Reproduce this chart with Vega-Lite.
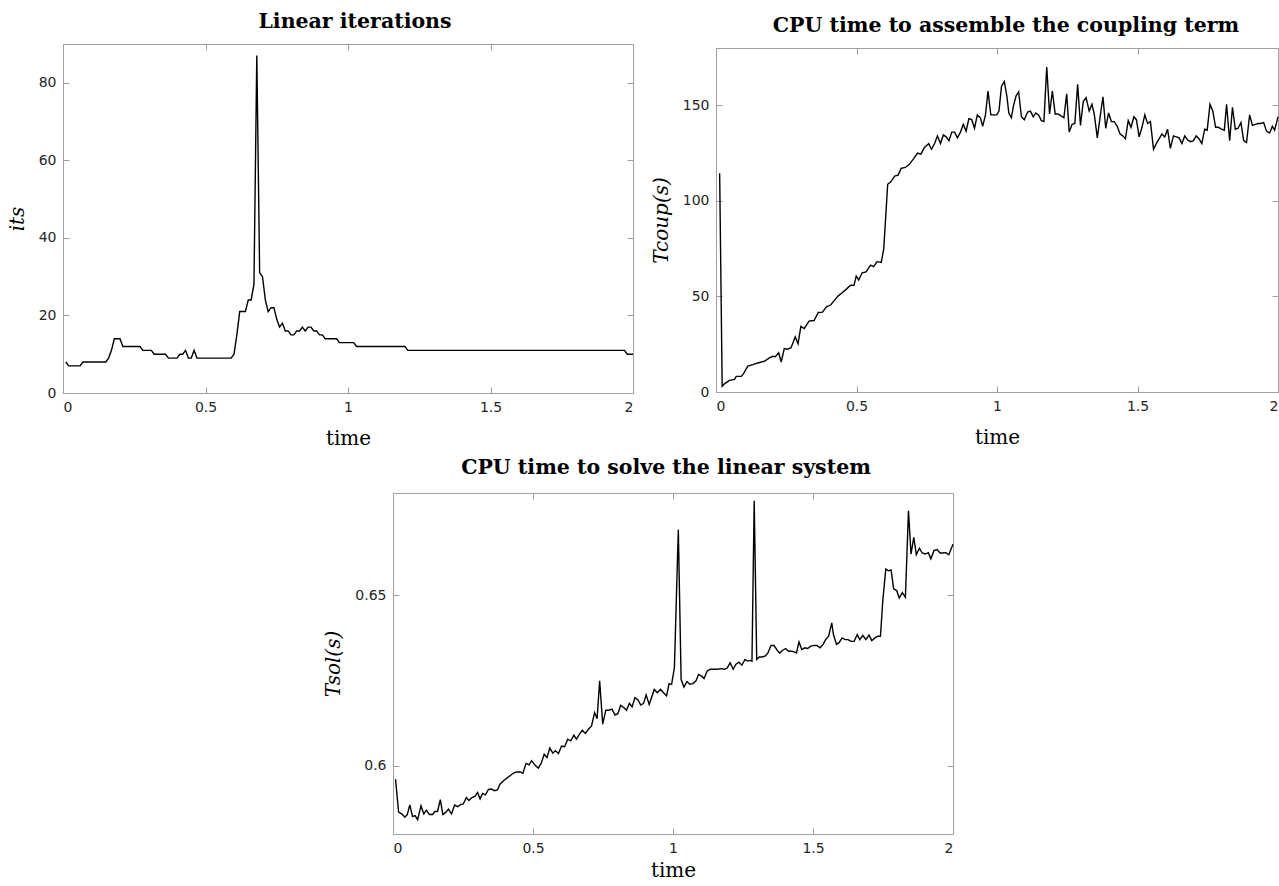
{
  "$schema": "https://vega.github.io/schema/vega-lite/v6.json",
  "padding": {"left": 6, "top": 10, "right": 2, "bottom": 0},
  "background": "white",
  "datasets": {
    "its": [
      {"t":0.01,"v":8},{"t":0.02,"v":7},{"t":0.06,"v":7},{"t":0.07,"v":8},{"t":0.15,"v":8},{"t":0.16,"v":9},{"t":0.17,"v":11},{"t":0.18,"v":14},{"t":0.20,"v":14},{"t":0.21,"v":12},{"t":0.27,"v":12},{"t":0.28,"v":11},{"t":0.31,"v":11},{"t":0.32,"v":10},{"t":0.36,"v":10},{"t":0.37,"v":9},{"t":0.40,"v":9},{"t":0.41,"v":10},{"t":0.42,"v":10},{"t":0.43,"v":11},{"t":0.44,"v":9},{"t":0.45,"v":9},{"t":0.46,"v":11},{"t":0.47,"v":9},{"t":0.59,"v":9},{"t":0.60,"v":10},{"t":0.61,"v":15},{"t":0.62,"v":21},{"t":0.64,"v":21},{"t":0.65,"v":24},{"t":0.66,"v":24},{"t":0.67,"v":28},{"t":0.68,"v":87},{"t":0.69,"v":31},{"t":0.70,"v":30},{"t":0.71,"v":24},{"t":0.72,"v":21},{"t":0.73,"v":22},{"t":0.74,"v":22},{"t":0.75,"v":19},{"t":0.76,"v":17},{"t":0.77,"v":18},{"t":0.78,"v":16},{"t":0.79,"v":16},{"t":0.80,"v":15},{"t":0.81,"v":15},{"t":0.82,"v":16},{"t":0.83,"v":16},{"t":0.84,"v":17},{"t":0.85,"v":16},{"t":0.86,"v":17},{"t":0.87,"v":17},{"t":0.88,"v":16},{"t":0.89,"v":16},{"t":0.90,"v":15},{"t":0.91,"v":15},{"t":0.92,"v":14},{"t":0.96,"v":14},{"t":0.97,"v":13},{"t":1.02,"v":13},{"t":1.03,"v":12},{"t":1.20,"v":12},{"t":1.21,"v":11},{"t":1.97,"v":11},{"t":1.98,"v":10},{"t":2.00,"v":10}
    ],
    "coup": [
      {"t":0.013,"v":114.5},{"t":0.022,"v":3},{"t":0.031,"v":4.4},{"t":0.048,"v":6.1},{"t":0.066,"v":6.6},{"t":0.072,"v":8.2},{"t":0.09,"v":8.2},{"t":0.098,"v":9.6},{"t":0.113,"v":13.5},{"t":0.131,"v":14.3},{"t":0.149,"v":15.2},{"t":0.172,"v":16.1},{"t":0.19,"v":17.8},{"t":0.202,"v":18.7},{"t":0.211,"v":18.5},{"t":0.223,"v":20.6},{"t":0.232,"v":15.7},{"t":0.243,"v":22.7},{"t":0.255,"v":22.4},{"t":0.267,"v":23.2},{"t":0.282,"v":28.8},{"t":0.292,"v":25.3},{"t":0.302,"v":34.3},{"t":0.314,"v":33.2},{"t":0.331,"v":37.1},{"t":0.349,"v":37.4},{"t":0.364,"v":41.6},{"t":0.379,"v":41.8},{"t":0.393,"v":44.6},{"t":0.408,"v":45.5},{"t":0.42,"v":47.7},{"t":0.435,"v":50.3},{"t":0.449,"v":51.9},{"t":0.463,"v":53.7},{"t":0.479,"v":55.9},{"t":0.491,"v":55.8},{"t":0.499,"v":60.7},{"t":0.508,"v":58.6},{"t":0.52,"v":62.4},{"t":0.534,"v":62.8},{"t":0.55,"v":66.4},{"t":0.561,"v":65.6},{"t":0.573,"v":68.2},{"t":0.588,"v":67.8},{"t":0.597,"v":75},{"t":0.611,"v":108.7},{"t":0.622,"v":110},{"t":0.636,"v":113},{"t":0.648,"v":113.5},{"t":0.659,"v":117},{"t":0.674,"v":117.5},{"t":0.687,"v":119},{"t":0.703,"v":122},{"t":0.717,"v":125},{"t":0.729,"v":124.5},{"t":0.742,"v":128},{"t":0.757,"v":130},{"t":0.767,"v":127},{"t":0.778,"v":130},{"t":0.788,"v":134},{"t":0.799,"v":130},{"t":0.809,"v":134.5},{"t":0.819,"v":133.5},{"t":0.829,"v":131.5},{"t":0.839,"v":136},{"t":0.849,"v":136},{"t":0.859,"v":133},{"t":0.87,"v":136},{"t":0.88,"v":140},{"t":0.89,"v":136.5},{"t":0.9,"v":143},{"t":0.91,"v":142.5},{"t":0.92,"v":138},{"t":0.93,"v":145},{"t":0.941,"v":143.5},{"t":0.949,"v":139},{"t":0.959,"v":145},{"t":0.968,"v":157.5},{"t":0.978,"v":145},{"t":0.988,"v":145},{"t":0.999,"v":145},{"t":1.007,"v":147},{"t":1.016,"v":160},{"t":1.026,"v":162.5},{"t":1.035,"v":155},{"t":1.042,"v":146},{"t":1.051,"v":143.5},{"t":1.059,"v":150},{"t":1.068,"v":155},{"t":1.077,"v":157},{"t":1.087,"v":144},{"t":1.097,"v":142.5},{"t":1.109,"v":146.5},{"t":1.119,"v":147},{"t":1.129,"v":144},{"t":1.138,"v":146},{"t":1.148,"v":145},{"t":1.158,"v":142},{"t":1.167,"v":141.5},{"t":1.177,"v":170},{"t":1.187,"v":145.5},{"t":1.197,"v":157.5},{"t":1.207,"v":145.5},{"t":1.217,"v":145.5},{"t":1.228,"v":144.5},{"t":1.238,"v":143.5},{"t":1.248,"v":156},{"t":1.257,"v":136},{"t":1.267,"v":140},{"t":1.277,"v":140.5},{"t":1.287,"v":161},{"t":1.297,"v":139.5},{"t":1.307,"v":152},{"t":1.317,"v":154},{"t":1.328,"v":147},{"t":1.338,"v":150.5},{"t":1.346,"v":145.5},{"t":1.357,"v":133},{"t":1.367,"v":144},{"t":1.377,"v":154.5},{"t":1.387,"v":138},{"t":1.397,"v":146},{"t":1.407,"v":141.5},{"t":1.417,"v":141.5},{"t":1.428,"v":139},{"t":1.438,"v":135},{"t":1.448,"v":134},{"t":1.457,"v":132.5},{"t":1.467,"v":142},{"t":1.477,"v":138.5},{"t":1.487,"v":144},{"t":1.496,"v":142.5},{"t":1.506,"v":133.5},{"t":1.516,"v":138.5},{"t":1.526,"v":145},{"t":1.536,"v":140.5},{"t":1.546,"v":141.5},{"t":1.557,"v":127},{"t":1.567,"v":130},{"t":1.577,"v":132.5},{"t":1.587,"v":135},{"t":1.597,"v":133.5},{"t":1.607,"v":137.5},{"t":1.617,"v":127.5},{"t":1.628,"v":134},{"t":1.638,"v":133.5},{"t":1.648,"v":133},{"t":1.658,"v":130},{"t":1.668,"v":134},{"t":1.678,"v":132},{"t":1.688,"v":131},{"t":1.699,"v":131.5},{"t":1.709,"v":134},{"t":1.719,"v":132.5},{"t":1.729,"v":130},{"t":1.739,"v":137.5},{"t":1.748,"v":137},{"t":1.758,"v":150.5},{"t":1.768,"v":147},{"t":1.778,"v":138.5},{"t":1.788,"v":138.5},{"t":1.799,"v":137.5},{"t":1.809,"v":137},{"t":1.817,"v":150.5},{"t":1.828,"v":131.5},{"t":1.838,"v":149},{"t":1.848,"v":137.5},{"t":1.858,"v":138},{"t":1.868,"v":141},{"t":1.878,"v":131.5},{"t":1.888,"v":130.5},{"t":1.899,"v":145},{"t":1.909,"v":139.5},{"t":1.919,"v":140},{"t":1.929,"v":140.5},{"t":1.939,"v":140.5},{"t":1.949,"v":141},{"t":1.959,"v":136.5},{"t":1.97,"v":135.5},{"t":1.98,"v":139},{"t":1.988,"v":137},{"t":2.0,"v":144}
    ],
    "sol": [
      {"t":0.009,"v":0.5961},{"t":0.02,"v":0.5864},{"t":0.031,"v":0.5859},{"t":0.042,"v":0.5849},{"t":0.051,"v":0.5857},{"t":0.06,"v":0.5885},{"t":0.07,"v":0.5851},{"t":0.079,"v":0.5854},{"t":0.088,"v":0.5842},{"t":0.1,"v":0.5883},{"t":0.11,"v":0.5859},{"t":0.119,"v":0.587},{"t":0.13,"v":0.5857},{"t":0.141,"v":0.5857},{"t":0.15,"v":0.5866},{"t":0.159,"v":0.5866},{"t":0.169,"v":0.5901},{"t":0.178,"v":0.5857},{"t":0.189,"v":0.5864},{"t":0.198,"v":0.5873},{"t":0.209,"v":0.5859},{"t":0.22,"v":0.5885},{"t":0.231,"v":0.588},{"t":0.241,"v":0.5886},{"t":0.251,"v":0.5888},{"t":0.262,"v":0.5907},{"t":0.271,"v":0.5898},{"t":0.282,"v":0.5907},{"t":0.293,"v":0.5911},{"t":0.302,"v":0.5922},{"t":0.311,"v":0.5903},{"t":0.32,"v":0.5919},{"t":0.33,"v":0.5915},{"t":0.341,"v":0.5931},{"t":0.351,"v":0.5932},{"t":0.362,"v":0.5927},{"t":0.373,"v":0.5929},{"t":0.382,"v":0.5946},{"t":0.395,"v":0.5956},{"t":0.407,"v":0.5964},{"t":0.418,"v":0.5971},{"t":0.429,"v":0.5978},{"t":0.441,"v":0.5982},{"t":0.454,"v":0.5982},{"t":0.464,"v":0.5978},{"t":0.475,"v":0.6007},{"t":0.486,"v":0.6003},{"t":0.495,"v":0.6015},{"t":0.506,"v":0.6003},{"t":0.519,"v":0.5993},{"t":0.529,"v":0.6007},{"t":0.54,"v":0.6034},{"t":0.55,"v":0.6024},{"t":0.56,"v":0.6052},{"t":0.571,"v":0.6037},{"t":0.58,"v":0.6044},{"t":0.591,"v":0.6036},{"t":0.602,"v":0.6058},{"t":0.613,"v":0.6056},{"t":0.624,"v":0.6078},{"t":0.635,"v":0.6073},{"t":0.646,"v":0.609},{"t":0.655,"v":0.6078},{"t":0.666,"v":0.6093},{"t":0.676,"v":0.6104},{"t":0.687,"v":0.6095},{"t":0.698,"v":0.6107},{"t":0.709,"v":0.6117},{"t":0.72,"v":0.6156},{"t":0.729,"v":0.6138},{"t":0.738,"v":0.6249},{"t":0.749,"v":0.6122},{"t":0.76,"v":0.6163},{"t":0.771,"v":0.6163},{"t":0.782,"v":0.6166},{"t":0.793,"v":0.6149},{"t":0.803,"v":0.6153},{"t":0.813,"v":0.6177},{"t":0.824,"v":0.6171},{"t":0.834,"v":0.6163},{"t":0.844,"v":0.6183},{"t":0.854,"v":0.6173},{"t":0.864,"v":0.62},{"t":0.875,"v":0.6193},{"t":0.885,"v":0.6178},{"t":0.895,"v":0.6183},{"t":0.904,"v":0.6208},{"t":0.915,"v":0.618},{"t":0.924,"v":0.6202},{"t":0.933,"v":0.6224},{"t":0.944,"v":0.6214},{"t":0.955,"v":0.6224},{"t":0.966,"v":0.6214},{"t":0.977,"v":0.6205},{"t":0.986,"v":0.6241},{"t":0.995,"v":0.6239},{"t":1.005,"v":0.6288},{"t":1.019,"v":0.6692},{"t":1.029,"v":0.6253},{"t":1.039,"v":0.6231},{"t":1.05,"v":0.6247},{"t":1.06,"v":0.6239},{"t":1.071,"v":0.6241},{"t":1.082,"v":0.6249},{"t":1.091,"v":0.6268},{"t":1.102,"v":0.6263},{"t":1.111,"v":0.6256},{"t":1.122,"v":0.6278},{"t":1.133,"v":0.6283},{"t":1.142,"v":0.6283},{"t":1.153,"v":0.6283},{"t":1.164,"v":0.6284},{"t":1.173,"v":0.6285},{"t":1.184,"v":0.6283},{"t":1.193,"v":0.6286},{"t":1.204,"v":0.6302},{"t":1.215,"v":0.6283},{"t":1.224,"v":0.6297},{"t":1.235,"v":0.6304},{"t":1.246,"v":0.6295},{"t":1.257,"v":0.6312},{"t":1.266,"v":0.6307},{"t":1.277,"v":0.6309},{"t":1.282,"v":0.6307},{"t":1.29,"v":0.6777},{"t":1.299,"v":0.6312},{"t":1.308,"v":0.6319},{"t":1.319,"v":0.6319},{"t":1.33,"v":0.6322},{"t":1.339,"v":0.6331},{"t":1.35,"v":0.6353},{"t":1.361,"v":0.6353},{"t":1.372,"v":0.6339},{"t":1.381,"v":0.6331},{"t":1.392,"v":0.6339},{"t":1.402,"v":0.6344},{"t":1.413,"v":0.6336},{"t":1.424,"v":0.6336},{"t":1.433,"v":0.6334},{"t":1.441,"v":0.6331},{"t":1.45,"v":0.6363},{"t":1.46,"v":0.6341},{"t":1.471,"v":0.6346},{"t":1.481,"v":0.6344},{"t":1.492,"v":0.6351},{"t":1.503,"v":0.6353},{"t":1.514,"v":0.6353},{"t":1.525,"v":0.6346},{"t":1.536,"v":0.6356},{"t":1.545,"v":0.637},{"t":1.556,"v":0.638},{"t":1.567,"v":0.6419},{"t":1.573,"v":0.6385},{"t":1.584,"v":0.6356},{"t":1.593,"v":0.6361},{"t":1.604,"v":0.6375},{"t":1.615,"v":0.637},{"t":1.625,"v":0.637},{"t":1.636,"v":0.6365},{"t":1.647,"v":0.6365},{"t":1.658,"v":0.6385},{"t":1.667,"v":0.637},{"t":1.678,"v":0.6382},{"t":1.689,"v":0.637},{"t":1.7,"v":0.6383},{"t":1.71,"v":0.6367},{"t":1.721,"v":0.6375},{"t":1.732,"v":0.638},{"t":1.741,"v":0.638},{"t":1.749,"v":0.6482},{"t":1.76,"v":0.6577},{"t":1.769,"v":0.6572},{"t":1.779,"v":0.6574},{"t":1.788,"v":0.6519},{"t":1.799,"v":0.6514},{"t":1.808,"v":0.6492},{"t":1.819,"v":0.6508},{"t":1.83,"v":0.6494},{"t":1.841,"v":0.6748},{"t":1.85,"v":0.6621},{"t":1.86,"v":0.667},{"t":1.869,"v":0.6619},{"t":1.88,"v":0.6638},{"t":1.89,"v":0.6624},{"t":1.901,"v":0.6621},{"t":1.912,"v":0.6625},{"t":1.921,"v":0.6607},{"t":1.932,"v":0.6631},{"t":1.943,"v":0.6634},{"t":1.954,"v":0.6624},{"t":1.964,"v":0.6624},{"t":1.975,"v":0.6625},{"t":1.985,"v":0.6619},{"t":2.0,"v":0.665}
    ]
  },
  "config": {
    "view": {"stroke": "#a0a0a0", "strokeWidth": 1},
    "axis": {
      "grid": false, "domain": false,
      "tickColor": "#a0a0a0", "tickSize": -6, "tickWidth": 1,
      "labelFont": "DejaVu Sans", "labelFontSize": 14, "labelColor": "#262626", "labelPadding": 13,
      "titleFont": "DejaVu Serif", "titleFontSize": 20, "titleFontWeight": "normal", "titleColor": "black"
    },
    "axisX": {"titlePadding": 14},
    "axisY": {"titlePadding": 11},
    "title": {"font": "DejaVu Serif", "fontSize": 20.5, "fontWeight": "bold", "color": "black", "offset": 11}
  },
  "vconcat": [
    {
      "hconcat": [
        {
          "vconcat": [
            {
              "width": 1, "height": 1,
              "view": {"stroke": null},
              "data": {"values": [{"t": 0}]},
              "mark": {"type": "point", "size": 0, "opacity": 0},
              "encoding": {}
            },
            {
              "width": 570, "height": 349,
              "title": {"text": "Linear iterations", "dx": 7},
              "data": {"name": "its"},
              "layer": [
                {
                  "mark": {"type": "line", "color": "black", "strokeWidth": 1.4},
                  "encoding": {
                    "x": {"field": "t", "type": "quantitative", "scale": {"domain": [0, 2], "nice": false}, "axis": {"values": [0, 0.5, 1, 1.5, 2], "format": "~g", "title": "time"}},
                    "y": {"field": "v", "type": "quantitative", "scale": {"domain": [0, 90], "nice": false}, "axis": {"values": [0, 20, 40, 60, 80], "title": "its", "titleFontStyle": "italic"}}
                  }
                },
                {
                  "mark": {"type": "line", "strokeOpacity": 0},
                  "encoding": {
                    "x": {"field": "t", "type": "quantitative", "axis": {"orient": "top", "values": [0, 0.5, 1, 1.5, 2], "labels": false, "title": null}},
                    "y": {"field": "v", "type": "quantitative", "axis": {"orient": "right", "values": [0, 20, 40, 60, 80], "labels": false, "title": null}}
                  }
                }
              ],
              "resolve": {"axis": {"x": "independent", "y": "independent"}}
            }
          ],
          "spacing": 0
        },
        {
          "vconcat": [
            {
              "width": 1, "height": 5,
              "view": {"stroke": null},
              "data": {"values": [{"t": 0}]},
              "mark": {"type": "point", "size": 0, "opacity": 0},
              "encoding": {}
            },
            {
              "width": 562, "height": 344,
              "title": {"text": "CPU time to assemble the coupling term", "dx": 9},
              "data": {"name": "coup"},
              "layer": [
                {
                  "mark": {"type": "line", "color": "black", "strokeWidth": 1.4},
                  "encoding": {
                    "x": {"field": "t", "type": "quantitative", "scale": {"domain": [0, 2], "nice": false}, "axis": {"values": [0, 0.5, 1, 1.5, 2], "format": "~g", "title": "time"}},
                    "y": {"field": "v", "type": "quantitative", "scale": {"domain": [0, 180], "nice": false}, "axis": {"values": [0, 50, 100, 150], "title": "Tcoup(s)", "titleFontStyle": "italic"}}
                  }
                },
                {
                  "mark": {"type": "line", "strokeOpacity": 0},
                  "encoding": {
                    "x": {"field": "t", "type": "quantitative", "axis": {"orient": "top", "values": [0, 0.5, 1, 1.5, 2], "labels": false, "title": null}},
                    "y": {"field": "v", "type": "quantitative", "axis": {"orient": "right", "values": [0, 50, 100, 150], "labels": false, "title": null}}
                  }
                }
              ],
              "resolve": {"axis": {"x": "independent", "y": "independent"}}
            }
          ],
          "spacing": 0
        }
      ],
      "spacing": 13
    },
    {
      "hconcat": [
        {
          "width": 260, "height": 20,
          "view": {"stroke": null},
          "data": {"values": [{"t": 0}]},
          "mark": {"type": "point", "size": 0, "opacity": 0},
          "encoding": {}
        },
        {
          "width": 560, "height": 341,
          "title": {"text": "CPU time to solve the linear system", "dx": -7, "offset": 14},
          "data": {"name": "sol"},
          "layer": [
            {
              "mark": {"type": "line", "color": "black", "strokeWidth": 1.4},
              "encoding": {
                "x": {"field": "t", "type": "quantitative", "scale": {"domain": [0, 2], "nice": false}, "axis": {"values": [0, 0.5, 1, 1.5, 2], "format": "~g", "title": "time", "titlePadding": 5}},
                "y": {"field": "v", "type": "quantitative", "scale": {"domain": [0.58, 0.68], "nice": false, "zero": false}, "axis": {"values": [0.6, 0.65], "format": "~g", "title": "Tsol(s)", "titleFontStyle": "italic"}}
              }
            },
            {
              "mark": {"type": "line", "strokeOpacity": 0},
              "encoding": {
                "x": {"field": "t", "type": "quantitative", "axis": {"orient": "top", "values": [0, 0.5, 1, 1.5, 2], "labels": false, "title": null}},
                "y": {"field": "v", "type": "quantitative", "axis": {"orient": "right", "values": [0.6, 0.65], "labels": false, "title": null}}
              }
            }
          ],
          "resolve": {"axis": {"x": "independent", "y": "independent"}}
        }
      ],
      "spacing": 0
    }
  ],
  "spacing": 8
}
